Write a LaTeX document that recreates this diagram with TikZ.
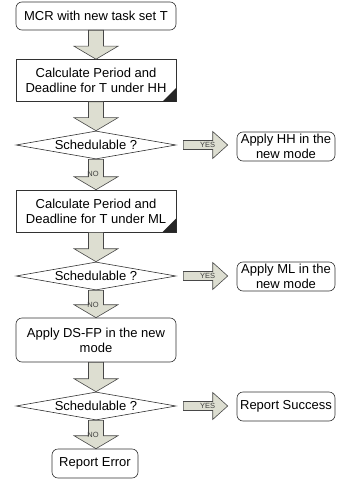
\documentclass[tikz,border=0pt]{standalone}
\usepackage{fontspec}
\setmainfont{Liberation Sans}
\usetikzlibrary{shapes.geometric,calc}

\definecolor{flowgray}{RGB}{221,222,209}
\definecolor{edgegray}{RGB}{50,50,50}

\tikzset{
	base/.style={draw=edgegray, fill=white, align=center, inner sep=1pt, line width=0.6pt,
		font=\fontsize{13}{15}\selectfont},
	startbox/.style={base, rounded corners=6pt, minimum width=160pt, minimum height=28pt},
	calcbox/.style={base, rectangle, minimum width=160pt, minimum height=42pt},
	testbox/.style={base, diamond, aspect=5.7, minimum width=160pt, minimum height=28pt},
	modebox/.style={base, rounded corners=6pt, minimum width=98pt, minimum height=29pt},
	flow/.style={draw=edgegray!90, fill=flowgray, line width=0.6pt},
	flowlabel/.style={inner sep=0pt, font=\fontsize{7.5}{8}\selectfont, text=black!75}
}

% block arrow downwards
\newcommand{\flowdown}[2]{%
	\draw[flow] ($(#1.south)+(-7.5,0)$) -- ($(#1.south |- #2.north)+(-7.5,-13)$) -- ++(-14.5,0)
		-- (#1.south |- #2.north) -- ++(22,-13) -- ++(-14.5,0) -- ($(#1.south)+(7.5,0)$) -- cycle;}
% block arrow to the right
\newcommand{\flowright}[2]{%
	\draw[flow] ($(#1.east)+(7,-4.5)$) -- ($(#1.east -| #2.west)+(-24,-4.5)$) -- ++(0,-9)
		-- ($(#1.east -| #2.west)+(-9,0)$) -- ++(-15,13.5) -- ++(0,-9) -- ($(#1.east)+(7,4.5)$) -- cycle;}
% black corner mark
\newcommand{\corner}[1]{%
	\fill[black!85] (#1.south east) -- ++(-14,0) -- ++(14,-14) -- cycle;}

\begin{document}
\begin{tikzpicture}[x=1pt,y=-1pt]
	\useasboundingbox (0,0) rectangle (337,484);

	% Left column
	\node[startbox] (mcr) at (96,16) {MCR with new task set T};
	\node[calcbox] (calchh) at (96,80.5) {Calculate Period and\\Deadline for T under HH};
	\node[testbox] (test1) at (96,145) {Schedulable ?};
	\node[calcbox] (calcml) at (96,211) {Calculate Period and\\Deadline for T under ML};
	\node[testbox] (test2) at (96,276) {Schedulable ?};
	\node[startbox, minimum height=44pt] (dsfp) at (96,340) {Apply DS-FP in the new\\mode};
	\node[testbox] (test3) at (96,406) {Schedulable ?};
	\node[modebox, minimum width=86pt] (error) at (95,463.5) {Report Error};

	% Right column
	\node[modebox] (applyhh) at (286,146.5) {Apply HH in the\\new mode};
	\node[modebox] (applyml) at (286,276.5) {Apply ML in the\\new mode};
	\node[modebox] (success) at (286,406.5) {Report Success};

	\corner{calchh}
	\corner{calcml}

	% Arrows down
	\flowdown{mcr}{calchh}
	\flowdown{calchh}{test1}
	\flowdown{test1}{calcml}
	\flowdown{calcml}{test2}
	\flowdown{test2}{dsfp}
	\flowdown{dsfp}{test3}
	\flowdown{test3}{error}

	\node[flowlabel] (no1) at ($(test1.south)+(-3,15)$) {NO};
	\node[flowlabel] (no2) at ($(test2.south)+(-3,15)$) {NO};
	\node[flowlabel] (no3) at ($(test3.south)+(-3,15)$) {NO};

	% Arrows right
	\flowright{test1}{applyhh}
	\flowright{test2}{applyml}
	\flowright{test3}{success}

	\node[flowlabel] (yes1) at ($(test1.east -| applyhh.west)+(-29,0)$) {YES};
	\node[flowlabel] (yes2) at ($(test2.east -| applyml.west)+(-29,0)$) {YES};
	\node[flowlabel] (yes3) at ($(test3.east -| success.west)+(-29,0)$) {YES};
\end{tikzpicture}
\end{document}
